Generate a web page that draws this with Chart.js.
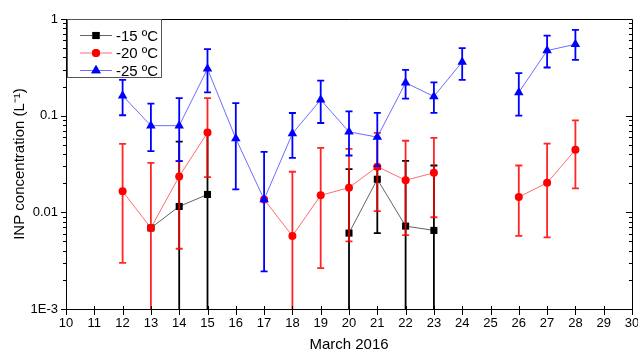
<!DOCTYPE html>
<html>
<head>
<meta charset="utf-8">
<script src="https://cdn.jsdelivr.net/npm/chart.js@4.4.1/dist/chart.umd.min.js"></script>
<style>
html, body { margin: 0; padding: 0; background: #fff; }
#wrap { width: 638px; height: 355px; }
</style>
</head>
<body>
<div id="wrap"><canvas id="inp"></canvas></div>
<script>
// days of March 2016
var days = [12, 13, 14, 15, 16, 17, 18, 19, 20, 21, 22, 23, 24, 25, 26, 27, 28];

// -15 ºC
var inp15 =     [null, 0.0069, 0.0115, 0.0153, null, null, null, null, 0.0061, 0.022, 0.0072, 0.0065, null, null, null, null, null];
var inp15Low =  [null, null,   0,      0,      null, null, null, null, 0,      0.0061, 0,      0,      null, null, null, null, null];
var inp15High = [null, null,   0.054,  0.069,  null, null, null, null, 0.028,  0.028,  0.034,  0.0305, null, null, null, null, null];

// -20 ºC
var inp20 =     [0.0165, 0.0069, 0.0235, 0.0668, null, 0.0136, 0.0057, 0.0150,  0.0180, 0.0297, 0.0215, 0.0256, null, null, 0.0144, 0.0202, 0.0443];
var inp20Low =  [0.003,  0,      0.0042, 0.0231, null, null,   0,      0.00265, 0.0050, 0.0103, 0.0058, 0.0089, null, null, 0.0057, 0.0055, 0.0177];
var inp20High = [0.051,  0.0325, 0.0338, 0.152,  null, null,   0.0263, 0.0465,  0.0454, 0.0663, 0.055,  0.0589, null, null, 0.0305, 0.0514, 0.0895];

// -25 ºC
var inp25 =     [0.161, 0.0788, 0.0788, 0.305, 0.058,  0.0136,  0.0652, 0.146, 0.068,  0.060, 0.219, 0.158, 0.36,  null, 0.174, 0.471, 0.548];
var inp25Low =  [0.101, 0.0429, 0.0338, 0.174, 0.0173, 0.00245, 0.0366, 0.084, 0.0387, 0.030, 0.150, 0.107, 0.235, null, 0.100, 0.315, 0.378];
var inp25High = [0.235, 0.133,  0.152,  0.487, 0.135,  0.0422,  0.1066, 0.23,  0.111,  0.107, 0.298, 0.221, 0.50,  null, 0.275, 0.673, 0.77];

var xTicks = [10, 11, 12, 13, 14, 15, 16, 17, 18, 19, 20, 21, 22, 23, 24, 25, 26, 27, 28, 29, 30];
var yTickValues = [0.001, 0.01, 0.1, 1];
var yTickLabels = ['1E-3', '0.01', '0.1', '1'];

var FONT = "'Liberation Sans', Arial, sans-serif";

function points(vals) {
    return days.map(function (d, i) { return { x: d, y: vals[i] }; });
}

// error bars, drawn just before each dataset so markers of that series sit on top
var errorBars = {
    id: 'errorBars',
    beforeDatasetDraw: function (chart, args) {
        var ds = chart.data.datasets[args.index];
        if (!ds.errHigh) return;
        var xs = chart.scales.x, ys = chart.scales.y, a = chart.chartArea, ctx = chart.ctx;
        ctx.save();
        ctx.beginPath();
        ctx.rect(a.left, a.top, a.right - a.left, a.bottom - a.top);
        ctx.clip();
        ctx.strokeStyle = ds.errColor;
        ctx.lineWidth = 1.8;
        days.forEach(function (d, i) {
            var hi = ds.errHigh[i], lo = ds.errLow[i];
            if (hi == null) return;
            var px = xs.getPixelForValue(d);
            var pHi = ys.getPixelForValue(hi);
            var pLo = lo > 0 ? ys.getPixelForValue(lo) : a.bottom + 3;
            ctx.beginPath();
            ctx.moveTo(px, pLo);
            ctx.lineTo(px, pHi);
            ctx.moveTo(px - 3.5, pHi);
            ctx.lineTo(px + 3.5, pHi);
            if (lo > 0) {
                ctx.moveTo(px - 3.5, pLo);
                ctx.lineTo(px + 3.5, pLo);
            }
            ctx.stroke();
        });
        ctx.restore();
    }
};

// frame, tick marks and legend box
var frameAndLegend = {
    id: 'frameAndLegend',
    afterDraw: function (chart) {
        var ctx = chart.ctx, a = chart.chartArea, xs = chart.scales.x, ys = chart.scales.y;
        ctx.save();
        ctx.strokeStyle = '#000';
        ctx.lineWidth = 1;
        ctx.beginPath();
        ctx.moveTo(a.left, a.top + 0.5);
        ctx.lineTo(a.right + 0.5, a.top + 0.5);
        ctx.lineTo(a.right + 0.5, a.bottom);
        ctx.stroke();

        // y ticks, log minor ones too
        ctx.beginPath();
        for (var e = -3; e <= 0; e++) {
            for (var k = 1; k <= 9; k++) {
                var v = k * Math.pow(10, e);
                if (v > 1.0001) break;
                var py = Math.round(ys.getPixelForValue(v)) + 0.5;
                var major = k === 1;
                ctx.moveTo(a.left - (major ? 5 : 3), py);
                ctx.lineTo(a.left, py);
                ctx.moveTo(a.right, py);
                ctx.lineTo(a.right - (major ? 6 : 3), py);
            }
        }
        // x ticks
        xTicks.forEach(function (t) {
            var px = Math.round(xs.getPixelForValue(t)) + 0.5;
            ctx.moveTo(px, a.bottom - 3);
            ctx.lineTo(px, a.bottom + 6);
        });
        ctx.stroke();

        // legend
        var bx = a.left + 1, by = a.top + 0.5, bw = 94, bh = 58;
        ctx.fillStyle = '#fff';
        ctx.fillRect(bx, by, bw, bh);
        ctx.strokeStyle = '#555';
        ctx.strokeRect(bx + 0.5, by, bw, bh);
        ctx.font = '15px ' + FONT;
        ctx.textBaseline = 'middle';
        chart.data.datasets.forEach(function (ds, i) {
            var ly = by + 16 + i * 17.5;
            ctx.strokeStyle = ds.borderColor;
            ctx.lineWidth = 1;
            ctx.beginPath();
            ctx.moveTo(bx + 13, ly);
            ctx.lineTo(bx + 45, ly);
            ctx.stroke();
            ctx.fillStyle = ds.pointBackgroundColor;
            Chart.helpers.drawPoint(ctx, { pointStyle: ds.pointStyle, radius: ds.pointRadius, rotation: 0, borderWidth: 0 }, bx + 29, ly);
            ctx.fill();
            ctx.fillStyle = '#000';
            ctx.fillText(ds.label, bx + 49, ly + 1);
        });
        ctx.restore();
    }
};

var ctx = document.getElementById('inp').getContext('2d');
var chart = new Chart(ctx, {
    type: 'line',
    data: {
        datasets: [
            {
                label: '-15 ºC',
                data: points(inp15),
                errLow: inp15Low, errHigh: inp15High, errColor: '#000',
                borderColor: 'rgba(60,60,60,0.8)', borderWidth: 1,
                pointStyle: 'rect', pointRadius: 5, pointBorderWidth: 0,
                pointBackgroundColor: '#000',
                order: 3
            },
            {
                label: '-20 ºC',
                data: points(inp20),
                errLow: inp20Low, errHigh: inp20High, errColor: 'rgba(255,0,0,0.85)',
                borderColor: 'rgba(255,60,60,0.75)', borderWidth: 1,
                pointStyle: 'circle', pointRadius: 4, pointBorderWidth: 0,
                pointBackgroundColor: '#ff0000',
                order: 2
            },
            {
                label: '-25 ºC',
                data: points(inp25),
                errLow: inp25Low, errHigh: inp25High, errColor: '#0000ff',
                borderColor: 'rgba(60,60,255,0.75)', borderWidth: 1,
                pointStyle: 'triangle', pointRadius: 5.5, pointBorderWidth: 0,
                pointBackgroundColor: '#0000ff',
                order: 1
            }
        ]
    },
    options: {
        responsive: true,
        maintainAspectRatio: false,
        animation: false,
        devicePixelRatio: 1,
        spanGaps: false,
        layout: { padding: { top: 19, right: 0, left: 0, bottom: 0 } },
        plugins: {
            legend: { display: false },
            tooltip: { enabled: false }
        },
        scales: {
            x: {
                type: 'linear',
                min: 10,
                max: 30,
                grid: { display: false, drawTicks: false },
                border: { display: true, color: '#000', width: 1 },
                afterBuildTicks: function (s) { s.ticks = xTicks.map(function (v) { return { value: v }; }); },
                afterFit: function (s) { s.height = 46; s.paddingRight = 6; s.paddingLeft = 0; },
                ticks: { color: '#000', padding: 7, maxRotation: 0, autoSkip: false, font: { family: FONT, size: 13 } },
                title: { display: true, text: 'March 2016', color: '#000', font: { family: FONT, size: 15 }, padding: { top: 0, bottom: 1 } }
            },
            y: {
                type: 'logarithmic',
                min: 0.001,
                max: 1,
                grid: { display: false, drawTicks: false },
                border: { display: true, color: '#000', width: 1 },
                afterBuildTicks: function (s) { s.ticks = yTickValues.map(function (v) { return { value: v }; }); },
                afterFit: function (s) { s.width = 66; },
                ticks: {
                    color: '#000', padding: 8, font: { family: FONT, size: 13 },
                    callback: function (value) {
                        for (var i = 0; i < yTickValues.length; i++) {
                            if (Math.abs(value - yTickValues[i]) < yTickValues[i] * 1e-6) return yTickLabels[i];
                        }
                        return '';
                    }
                },
                title: { display: true, text: 'INP concentration (L⁻¹)', color: '#000', font: { family: FONT, size: 15 }, padding: { top: 11, bottom: 0 } }
            }
        }
    },
    plugins: [errorBars, frameAndLegend]
});
</script>
</body>
</html>
